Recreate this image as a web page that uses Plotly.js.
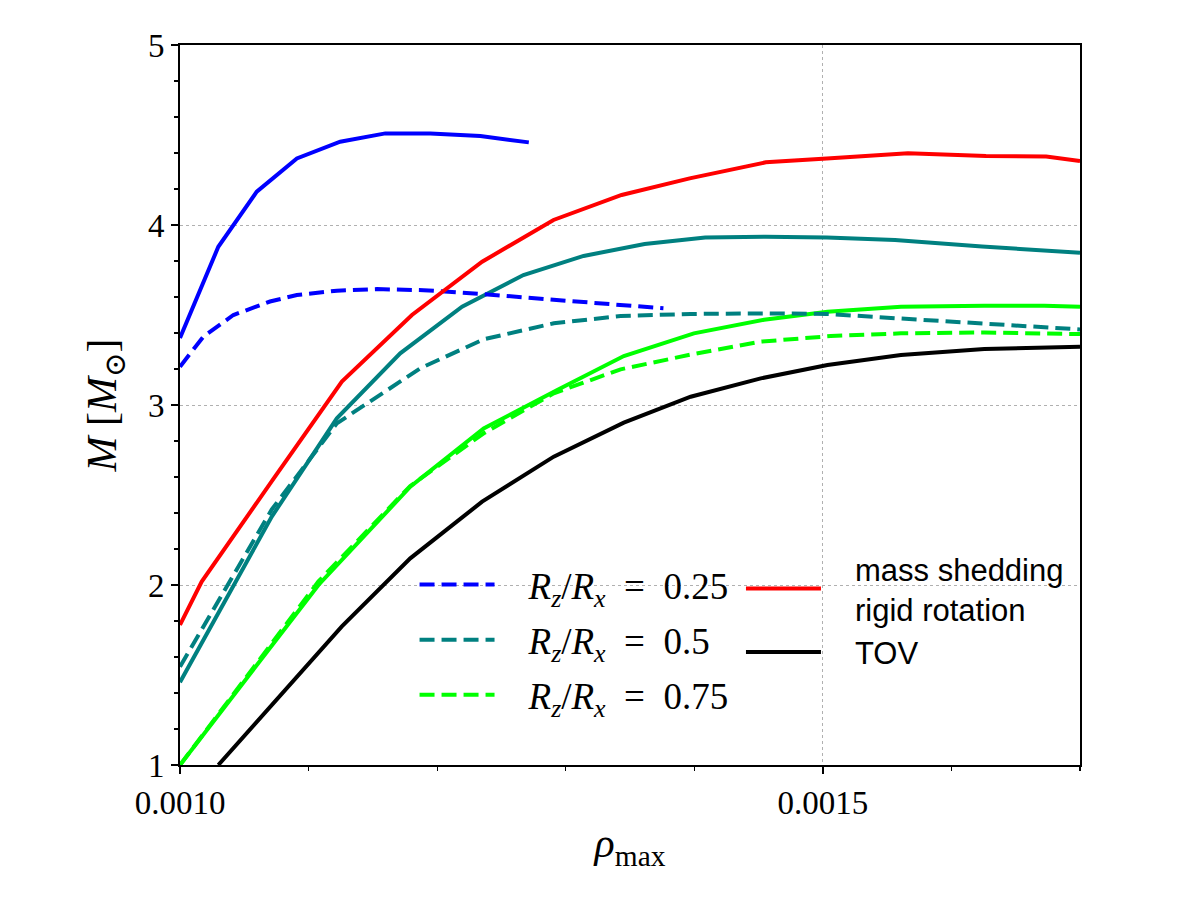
<!DOCTYPE html>
<html>
<head>
<meta charset="utf-8">
<script src="https://cdn.plot.ly/plotly-3.0.1.min.js"></script>
<style>html,body{margin:0;padding:0;background:#fff}</style>
</head>
<body>
<div id="chart" style="width:1200px;height:900px"></div>
<script>
// Maximum density rho_max vs. gravitational mass M [M_sun]

// Rz/Rx = 0.25, solid
const rhoBlueSolid = [0.001, 0.0010298, 0.0010597, 0.0010909, 0.0011246, 0.0011597, 0.0011947, 0.0012336, 0.0012713];
const mBlueSolid   = [3.372, 3.879, 4.185, 4.37, 4.463, 4.509, 4.509, 4.494, 4.459];

// Rz/Rx = 0.25, dashed
const rhoBlueDash = [0.001, 0.0010182, 0.0010415, 0.00107, 0.0010909, 0.001122, 0.0011532, 0.0011895, 0.0012336, 0.0012985, 0.001376];
const mBlueDash   = [3.213, 3.38, 3.50, 3.575, 3.611, 3.635, 3.644, 3.638, 3.617, 3.583, 3.537];

// Rz/Rx = 0.5, solid
const rhoTealSolid = [0.001, 0.0010714, 0.001122, 0.0011713, 0.0012194, 0.0012671, 0.0013139, 0.0013614, 0.0014085, 0.0014556, 0.0015031, 0.0015561, 0.0016238, 0.0016682, 0.0017];
const mTealSolid   = [1.46, 2.38, 2.926, 3.287, 3.546, 3.722, 3.828, 3.894, 3.93, 3.935, 3.93, 3.917, 3.88, 3.857, 3.846];

// Rz/Rx = 0.5, dashed
const rhoTealDash = [0.001, 0.0010714, 0.001122, 0.0011869, 0.0012362, 0.0012907, 0.0013427, 0.0013972, 0.0014556, 0.0015031, 0.0015592, 0.0016269, 0.0017];
const mTealDash   = [1.546, 2.42, 2.898, 3.204, 3.365, 3.454, 3.494, 3.506, 3.509, 3.506, 3.481, 3.454, 3.42];

// Rz/Rx = 0.75, solid
const rhoGreenSolid = [0.001, 0.0011077, 0.0011791, 0.0012362, 0.0012934, 0.0013452, 0.0013997, 0.0014543, 0.0015036, 0.0015607, 0.0016256, 0.0016723, 0.0017];
const mGreenSolid   = [1.0, 2.0, 2.546, 2.87, 3.083, 3.272, 3.398, 3.474, 3.518, 3.546, 3.552, 3.552, 3.546];

// Rz/Rx = 0.75, dashed
const rhoGreenDash = [0.001, 0.0011077, 0.0011791, 0.0012362, 0.0012907, 0.0013427, 0.0013972, 0.0014517, 0.0015062, 0.0015607, 0.0016254, 0.0017];
const mGreenDash   = [1.0, 2.02, 2.55, 2.843, 3.065, 3.198, 3.28, 3.352, 3.383, 3.398, 3.403, 3.394];

// Mass-shedding limit, rigid rotation
const rhoShed = [0.001, 0.0010169, 0.0010717, 0.0011259, 0.0011804, 0.001235, 0.0012905, 0.0013435, 0.0013964, 0.0014556, 0.0015031, 0.0015662, 0.0016269, 0.0016737, 0.0017];
const mShed   = [1.778, 2.019, 2.58, 3.13, 3.50, 3.796, 4.028, 4.167, 4.259, 4.348, 4.37, 4.398, 4.383, 4.38, 4.356];

// Non-rotating TOV sequence
const rhoTOV = [0.0010298, 0.0011259, 0.0011791, 0.001235, 0.0012907, 0.0013452, 0.0013972, 0.0014517, 0.0015036, 0.0015607, 0.0016256, 0.0017];
const mTOV   = [1.0, 1.77, 2.148, 2.463, 2.713, 2.902, 3.046, 3.148, 3.222, 3.278, 3.311, 3.324];

// Axis ticks
const xTicks = [0.0010, 0.0015];
const xTickText = ['0.0010', '0.0015'];
const yTicks = [1, 2, 3, 4, 5];
const yTickText = ['1', '2', '3', '4', '5'];

const RATIO = '<i>R</i><sub><i>z</i></sub>/<i>R</i><sub><i>x</i></sub>\u2002=\u2002';
const labels = {
  r25: RATIO + '0.25',
  r50: RATIO + '0.5',
  r75: RATIO + '0.75',
  shed: 'mass shedding<br>rigid rotation',
  tov: 'TOV'
};

const BLUE = '#0000ff', TEAL = '#008080', GREEN = '#00ff00', RED = '#ff0000', BLACK = '#000000';
const LW = 4;
const DASH = '15px,7px';

function line(x, y, color, dash, opts) {
  return Object.assign({
    x: x, y: y, type: 'scatter', mode: 'lines',
    line: {color: color, width: LW, dash: dash || 'solid'},
    hoverinfo: 'skip', showlegend: false
  }, opts || {});
}

const traces = [
  line(rhoBlueSolid, mBlueSolid, BLUE),
  line(rhoTealSolid, mTealSolid, TEAL),
  line(rhoGreenSolid, mGreenSolid, GREEN),
  line(rhoBlueDash, mBlueDash, BLUE, DASH, {name: labels.r25, showlegend: true, legend: 'legend', legendgroup: 'a'}),
  line(rhoTealDash, mTealDash, TEAL, DASH, {name: labels.r50, showlegend: true, legend: 'legend', legendgroup: 'b'}),
  line(rhoGreenDash, mGreenDash, GREEN, DASH, {name: labels.r75, showlegend: true, legend: 'legend', legendgroup: 'c'}),
  line(rhoShed, mShed, RED, 'solid', {name: labels.shed, showlegend: true, legend: 'legend2', legendgroup: 'd'}),
  line(rhoTOV, mTOV, BLACK, 'solid', {name: labels.tov, showlegend: true, legend: 'legend2', legendgroup: 'e'})
];

const SERIF = 'Liberation Serif, DejaVu Serif, serif';
const SANS = 'Liberation Sans, DejaVu Sans, sans-serif';

const layout = {
  width: 1200, height: 900,
  paper_bgcolor: '#ffffff', plot_bgcolor: '#ffffff',
  margin: {l: 180, r: 120, t: 45, b: 135},
  xaxis: {
    range: [0.001, 0.0017],
    tickmode: 'array', tickvals: xTicks, ticktext: xTickText,
    ticks: 'outside', ticklen: 7, tickwidth: 1.7, tickcolor: '#000',
    showline: true, linecolor: '#000', linewidth: 2, mirror: true,
    showgrid: true, gridcolor: '#b0b0b0', gridwidth: 1, griddash: 'dot',
    zeroline: false,
    minor: {dtick: 0.0001, tick0: 0.001, ticks: 'outside', ticklen: 4, tickwidth: 1.2, tickcolor: '#000', showgrid: false},
    tickfont: {family: SERIF, size: 33, color: '#000'},
    title: {text: '<i>ρ</i><sub>max</sub>', font: {family: SERIF, size: 42, color: '#000'}, standoff: 8}
  },
  yaxis: {
    range: [1, 5],
    tickmode: 'array', tickvals: yTicks, ticktext: yTickText,
    ticks: 'outside', ticklen: 7, tickwidth: 1.7, tickcolor: '#000',
    showline: true, linecolor: '#000', linewidth: 2, mirror: true,
    showgrid: true, gridcolor: '#b0b0b0', gridwidth: 1, griddash: 'dot',
    zeroline: false,
    minor: {dtick: 0.2, tick0: 1, ticks: 'outside', ticklen: 4, tickwidth: 1.2, tickcolor: '#000', showgrid: false},
    tickfont: {family: SERIF, size: 33, color: '#000'},
    title: {text: '<i>M</i> [<i>M</i><sub>⊙</sub>]', font: {family: SERIF, size: 42, color: '#000'}, standoff: 18}
  },
  legend: {
    x: 0.2606, y: 0.293, xanchor: 'left', yanchor: 'top',
    bgcolor: 'rgba(0,0,0,0)', borderwidth: 0,
    font: {family: SERIF, size: 37, color: '#000'},
    tracegroupgap: 4, itemwidth: 104, traceorder: 'grouped'
  },
  legend2: {
    x: 0.6233, y: 0.31, xanchor: 'left', yanchor: 'top',
    bgcolor: 'rgba(0,0,0,0)', borderwidth: 0,
    font: {family: SANS, size: 31, color: '#000'},
    tracegroupgap: 0, itemwidth: 104, traceorder: 'grouped'
  },
  showlegend: true
};

Plotly.newPlot('chart', traces, layout, {displayModeBar: false, staticPlot: true}).then(function (gd) {
  // lengthen the legend line samples to fill the item width
  gd.querySelectorAll('.legendlines path').forEach(function (p) {
    p.setAttribute('d', 'M5,0h75');
  });
});
</script>
</body>
</html>
